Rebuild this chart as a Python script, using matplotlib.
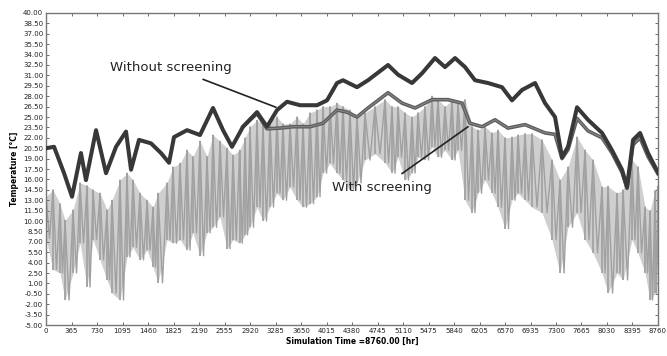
import numpy as np
import matplotlib
matplotlib.use("Agg")
import matplotlib.pyplot as plt

# Ambient temperature envelope (daily highs / lows), hr -> degC
amb_hours = [0, 100, 200, 272, 387, 487, 587, 673, 773, 873, 945, 1059, 1159, 1245,
             1345, 1446, 1532, 1603, 1732, 1818, 1918, 2018, 2104, 2204, 2305, 2391,
             2491, 2591, 2677, 2770, 2850, 2920, 3020, 3106, 3206, 3307, 3392, 3493,
             3593, 3679, 3779, 3879, 3965, 4065, 4165, 4251, 4351, 4452, 4566, 4709,
             4853, 4953, 5039, 5139, 5239, 5325, 5425, 5525, 5611, 5711, 5812, 5897,
             5998, 6098, 6184, 6284, 6384, 6470, 6570, 6670, 6757, 6857, 6957, 7100,
             7243, 7358, 7472, 7601, 7716, 7830, 7959, 8045, 8174, 8260, 8388, 8474,
             8575, 8646, 8718, 8760]
amb_high = [13.5, 14.5, 12.5, 10.1, 11.6, 15.5, 15.1, 14.5, 14.0, 11.6, 13.0, 15.9, 16.9, 15.9,
            14.0, 13.0, 12.0, 14.0, 15.5, 17.8, 18.3, 20.2, 19.3, 21.5, 19.3, 22.4,
            21.5, 20.5, 19.5, 20.2, 22.0, 23.6, 24.5, 24.0, 24.5, 25.0, 24.0, 24.0,
            25.0, 24.0, 25.6, 26.0, 26.5, 26.5, 27.0, 26.5, 26.0, 25.0, 25.6, 26.5,
            27.5, 26.5, 26.5, 25.6, 25.0, 25.6, 26.5, 28.0, 27.5, 26.5, 27.5, 27.0,
            27.5, 23.6, 23.1, 23.6, 22.7, 23.1, 22.0, 22.1, 22.4, 22.6, 22.6, 21.7,
            18.8, 15.9, 17.8, 22.1, 20.2, 18.8, 14.9, 15.0, 14.0, 14.5, 18.8, 17.8,
            12.0, 11.5, 14.4, 15.0]
amb_low = [7.5, 3.0, 2.5, -1.4, 2.5, 6.8, 0.5, 7.3, 4.4, 1.5, -0.4, -1.4, 4.8, 6.2,
           4.4, 5.8, 3.4, 1.1, 7.3, 6.8, 7.3, 5.8, 8.3, 5.0, 8.3, 9.1,
           10.6, 6.0, 7.3, 6.8, 8.0, 9.1, 12.0, 10.0, 12.0, 14.0, 13.0, 14.9,
           13.0, 12.0, 12.5, 13.5, 16.9, 18.3, 16.9, 15.9, 14.5, 15.5, 18.8, 19.7,
           18.4, 16.9, 19.2, 15.9, 16.9, 19.2, 18.8, 20.7, 19.2, 20.2, 18.8, 20.2,
           13.0, 11.2, 14.0, 15.9, 14.0, 12.0, 8.9, 13.0, 14.0, 13.0, 12.0, 11.2,
           7.3, 2.5, 9.1, 11.2, 7.3, 5.4, 2.5, -0.4, 2.5, 1.5, 7.3, 5.4,
           2.5, -1.4, -0.4, 5.0]

# Greenhouse air temperature without screening
nos_hours = [0, 115, 258, 372, 500, 572, 716, 859, 1002, 1145, 1217, 1331, 1503, 1646,
             1761, 1832, 2018, 2204, 2390, 2534, 2662, 2820, 3020, 3163, 3307, 3450,
             3636, 3879, 4022, 4165, 4251, 4452, 4609, 4896, 5039, 5239, 5382, 5568,
             5711, 5855, 5998, 6141, 6327, 6527, 6670, 6814, 7000, 7143, 7286, 7386,
             7472, 7601, 7758, 7959, 8102, 8245, 8317, 8403, 8503, 8617, 8760]
nos_temp = [20.5, 20.7, 16.9, 13.5, 19.8, 15.9, 23.1, 16.9, 20.7, 22.9, 17.4, 21.7, 21.2, 19.8,
            18.4, 22.1, 23.1, 22.4, 26.3, 23.1, 20.7, 23.6, 25.7, 23.6, 26.0, 27.2,
            26.7, 26.7, 27.4, 29.9, 30.3, 29.3, 30.3, 32.5, 31.1, 29.9, 31.3, 33.5,
            32.2, 33.5, 32.2, 30.3, 29.9, 29.3, 27.4, 28.9, 29.9, 27.0, 25.0, 19.2,
            20.7, 26.4, 24.6, 22.7, 20.2, 17.4, 14.9, 21.7, 22.7, 19.8, 17.0]

# Greenhouse air temperature with screening
scr_hours = [2820, 3020, 3163, 3350, 3536, 3779, 3965, 4165, 4308, 4452, 4609, 4896,
             5096, 5282, 5525, 5754, 5955, 6069, 6241, 6427, 6613, 6857, 7143, 7286,
             7386, 7472, 7601, 7758, 7959, 8102, 8245, 8317, 8403, 8503, 8617, 8760]
scr_temp = [23.6, 25.5, 23.3, 23.4, 23.6, 23.6, 24.1, 26.0, 25.7, 25.0, 26.3, 28.5,
            27.0, 26.3, 27.5, 27.5, 27.0, 24.1, 23.6, 24.6, 23.4, 23.9, 22.7, 22.5,
            19.0, 20.3, 24.8, 23.0, 22.0, 19.8, 17.0, 14.7, 21.0, 22.0, 19.3, 16.8]

x_ticks = list(range(0, 8761, 365))
y_ticks = np.arange(-5.0, 40.01, 1.5)

fig = plt.figure(figsize=(6.67, 3.56), dpi=100)
ax = fig.add_axes([0.069, 0.087, 0.9175, 0.8765])

# ambient: light envelope, vertical day strokes and a zigzag between highs and lows
ax.fill_between(amb_hours, amb_low, amb_high, color="#cfcfcf", lw=0, zorder=1)
ax.vlines(amb_hours, amb_low, amb_high, color="#a6a6a6", lw=1.4, zorder=2)
zz_x, zz_y = [], []
for i, h in enumerate(amb_hours):
    nxt = amb_hours[i + 1] if i + 1 < len(amb_hours) else h
    zz_x += [h, (h + nxt) / 2]
    zz_y += [amb_high[i], amb_low[i]]
ax.plot(zz_x, zz_y, color="#a0a0a0", lw=1.0, zorder=2)

ax.plot(scr_hours, scr_temp, color="#5c5c5c", lw=2.6, zorder=3, solid_joinstyle="round")
ax.plot(scr_hours, scr_temp, color="#858585", lw=0.8, zorder=3)
ax.plot(nos_hours, nos_temp, color="#383838", lw=2.9, zorder=4, solid_joinstyle="round")

ax.annotate("Without screening", xy=(3292, 26.4), xytext=(1790, 32.2),
            fontsize=9.5, ha="center", va="center", color="#222222",
            arrowprops=dict(arrowstyle="-", color="#222222", lw=1.2,
                            shrinkA=6, shrinkB=0))
ax.annotate("With screening", xy=(6041, 23.6), xytext=(4810, 14.8),
            fontsize=9.5, ha="center", va="center", color="#222222",
            arrowprops=dict(arrowstyle="-", color="#222222", lw=1.2,
                            shrinkA=6, shrinkB=0))

ax.set_xlim(0, 8760)
ax.set_ylim(-5, 40)
ax.set_xticks(x_ticks)
ax.set_xticklabels([str(t) for t in x_ticks])
ax.set_yticks(y_ticks)
ax.set_yticklabels(["%.2f" % v for v in y_ticks])
ax.tick_params(direction="in", length=2.5, width=0.6, labelsize=5,
               colors="#555555", labelcolor="#222222", top=True, right=True, pad=2)
for s in ax.spines.values():
    s.set_color("#777777")
    s.set_linewidth(1.0)

ax.set_xlabel("Simulation Time =8760.00 [hr]", fontsize=5.5, fontweight="bold", labelpad=2)
ax.set_ylabel("Temperature [\u00b0C]", fontsize=5.5, fontweight="bold", labelpad=3)

fig.savefig("out.png", dpi=100)
